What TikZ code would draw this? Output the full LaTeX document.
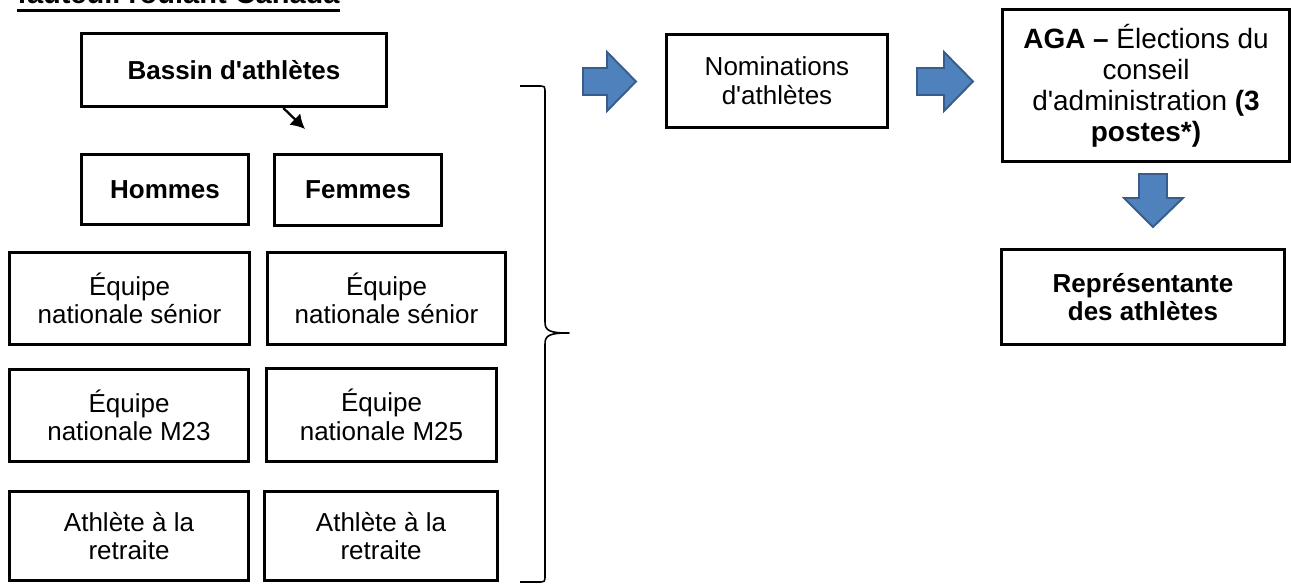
\documentclass[tikz,border=0pt]{standalone}
\usepackage{fontspec}
\newfontfamily\diagfont{Liberation Sans}
\usetikzlibrary{calc,arrows.meta}
\definecolor{arrowfill}{HTML}{4F81BD}
\definecolor{arrowline}{HTML}{385D8A}

\begin{document}
\begin{tikzpicture}[x=0.02cm,y=-0.02cm]
    % Athlete representative election flow (one unit = one pixel of the page).

    \tikzset{
      box/.style={draw, line width=1.7pt, align=center, inner sep=0pt,
        font=\diagfont\fontsize{14.8}{16.3}\selectfont},
      boldbox/.style={box, font=\diagfont\fontsize{14.8}{16.3}\selectfont\bfseries},
      pointer/.style={-{Latex[length=8pt,width=9pt]}, line width=1.3pt},
      blockarrow/.style={fill=arrowfill, draw=arrowline, line width=1.1pt, line join=miter},
      brace/.style={line width=0.9pt, line join=round}
    }

    \useasboundingbox (0,0) rectangle (1291,584);

    % --- Title, cut by the top edge
    \node[anchor=base west, inner sep=0pt,
      font=\diagfont\fontsize{16.5}{18}\selectfont\bfseries] (title) at (17,3.5) {fauteuil roulant Canada};
    \draw[line width=2.2pt] ([yshift=-0.14cm]title.base west) -- ([yshift=-0.14cm]title.base east);

    % --- Athlete pool
    \node[boldbox, minimum width=6.10cm, minimum height=1.46cm] (bassin) at (234,70) {Bassin d'athlètes};
    \node[boldbox, minimum width=3.34cm, minimum height=1.40cm] (hommes) at (165,189.5) {Hommes};
    \node[boldbox, minimum width=3.34cm, minimum height=1.42cm] (femmes) at (358,190) {Femmes};

    \coordinate (bassinout) at ($(bassin.south west)!0.66!(bassin.south east)$);
    \coordinate (split) at (305,129);
    \draw[pointer] (bassinout) -- (split);

    % --- Men (left) and women (right) categories
    \node[box, minimum width=4.80cm, minimum height=1.84cm] (senh) at (129.5,298.5) {Équipe\\nationale sénior};
    \node[box, minimum width=4.76cm, minimum height=1.84cm] (senf) at (386.5,298.5) {Équipe\\nationale sénior};
    \node[box, minimum width=4.78cm, minimum height=1.84cm] (mh) at (129,415.5) {Équipe\\nationale M23};
    \node[box, minimum width=4.60cm, minimum height=1.86cm] (mf) at (381.5,415) {Équipe\\nationale M25};
    \node[box, minimum width=4.78cm, minimum height=1.78cm] (reth) at (129,536) {Athlète à la\\retraite};
    \node[box, minimum width=4.66cm, minimum height=1.78cm] (retf) at (381,536) {Athlète à la\\retraite};

    % --- Brace gathering the pool
    \coordinate (bracetip) at (569,333);
    \draw[brace] (520,86) -- (538,86) .. controls (545,86) .. (545,93)
      -- (545,322) .. controls (545,331) and (550,333) .. (bracetip)
      .. controls (550,333) and (545,335) .. (545,344)
      -- (545,575) .. controls (545,582) .. (538,582) -- (520,582);

    % --- Nominations and election
    \node[box, minimum width=4.42cm, minimum height=1.86cm] (nomin) at (777,81) {Nominations\\d'athlètes};
    \node[box, minimum width=5.74cm, minimum height=3.04cm,
      font=\diagfont\fontsize{15.9}{17.6}\selectfont] (aga) at (1146,85.5)
      {{\bfseries AGA –} Élections du\\conseil\\d'administration {\bfseries (3}\\{\bfseries postes*)}};
    \node[boldbox, minimum width=5.66cm, minimum height=1.90cm] (repr) at (1143,297) {Représentante\\des athlètes};

    % --- Block arrows
    \draw[blockarrow] (583,68) -- (607,68) -- (607,52) -- (636,81.5) -- (607,111) -- (607,95) -- (583,95) -- cycle;
    \draw[blockarrow] (917,68) -- (944,68) -- (944,52) -- (973,81.5) -- (944,111) -- (944,95) -- (917,95) -- cycle;
    \draw[blockarrow] (1139,174) -- (1167,174) -- (1167,198) -- (1183,198) -- (1153,227) -- (1124,198) -- (1139,198) -- cycle;
\end{tikzpicture}
\end{document}
